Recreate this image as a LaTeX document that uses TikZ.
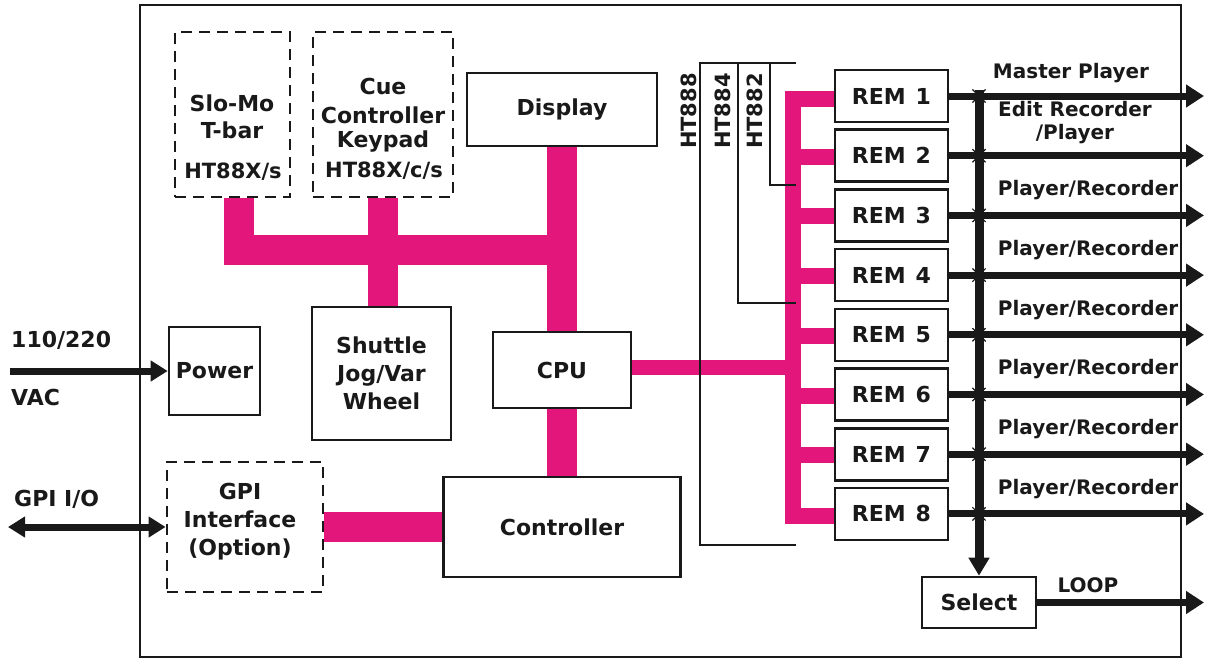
\documentclass[tikz,border=0pt]{standalone}
\usepackage{fontspec}
\setmainfont{DejaVu Sans}
\usetikzlibrary{arrows.meta,shapes.misc,backgrounds}
\definecolor{mag}{RGB}{226,22,123}
\definecolor{ink}{RGB}{25,25,25}
\begin{document}
\begin{tikzpicture}[x=1pt,y=-1pt,
  every node/.style={font=\fontsize{22}{28}\selectfont\bfseries, inner sep=0pt, text=ink},
  box/.style={draw=ink, line width=2.6pt, align=center},
  dbox/.style={box, line width=2.8pt, dash pattern=on 11pt off 7pt},
  rem/.style={box, minimum width=113pt, minimum height=52pt},
  magthick/.style={draw=mag, line width=30pt},
  magthin/.style={draw=mag, line width=16pt},
  htline/.style={draw=ink, line width=1.8pt},
  harrow/.style={draw=ink, line width=7pt, -{Triangle[length=18pt,width=22pt]}},
  vbus/.style={draw=ink, line width=9pt, -{Triangle[length=18pt,width=20pt]}},
  rlbl/.style={font=\fontsize{20}{23}\selectfont\bfseries},
  xmark/.style={cross out, draw=ink, line width=1.2pt, minimum size=12pt},
  htlbl/.style={rotate=90, anchor=east, font=\fontsize{21}{25}\selectfont\bfseries}
]
\useasboundingbox (0,0) rectangle (1205,659);
\draw[line width=2pt, ink] (140,5) rectangle (1181,657);

% boxes
\node[dbox, minimum width=115pt, minimum height=165pt] (slomo) at (232.5,114.5) {};
\node (slomo1) at (232,103) {Slo-Mo};
\node (slomo2) at (232,130) {T-bar};
\node[font=\fontsize{21}{25}\selectfont\bfseries] (slomo3) at (233,172) {HT88X/s};
\node[dbox, minimum width=140pt, minimum height=165pt] (cue) at (383,114.5) {};
\node (cue1) at (383,86) {Cue};
\node (cue2) at (383,115) {Controller};
\node (cue3) at (383,142) {Keypad};
\node[font=\fontsize{21}{25}\selectfont\bfseries] (cue4) at (384,171) {HT88X/c/s};
\node[box, minimum width=190pt, minimum height=73pt] (display) at (562,109.5) {Display};
\node[box, minimum width=139pt, minimum height=133pt] (shuttle) at (381.5,373.5) {Shuttle\\Jog/Var\\Wheel};
\node[box, minimum width=91pt, minimum height=88pt] (power) at (214.5,371) {Power};
\node[dbox, minimum width=156pt, minimum height=130pt] (gpi) at (245,527) {};
\node[align=center] (gpit) at (240,522) {GPI\\Interface\\(Option)};
\node[box, minimum width=138pt, minimum height=76pt] (cpu) at (562,370) {CPU};
\node[box, minimum width=237pt, minimum height=100pt] (ctrl) at (562,527) {Controller};
\foreach \i in {1,...,8}{
  \node[rem] (rem\i) at (891.5,{96+59.7*(\i-1)}) {REM\hspace{0.45em}\i};
}
\node[box, minimum width=114pt, minimum height=51pt] (select) at (979,602.5) {Select};

% coordinates
\coordinate (j1) at (562,250);
\coordinate (bus) at (793,300);
\coordinate (edge) at (1204,300);
\coordinate (bustop) at (979,90);
\coordinate (vacin) at (10,371);
\coordinate (gpiin) at (8,527);

% magenta buses
\begin{pgfonlayer}{background}
\draw[magthick] ([xshift=6.5pt]slomo.south) |- (j1);
\draw[magthick] (cue.south) -- (cue.south |- shuttle.north);
\draw[magthick] (display.south) -- (cpu.north);
\draw[magthick] (cpu.south) -- (ctrl.north);
\draw[magthick] (gpi.east) -- (ctrl.west);
\draw[magthin, line width=15pt] ([yshift=3pt]cpu.east) -- ([yshift=3pt]cpu.east -| bus);
\draw[magthin] ([yshift=-3pt]rem1.west) -| ([yshift=-2pt]bus |- rem8.west) -- ([yshift=-2pt]rem8.west);
\foreach \i in {2,...,7}{
  \draw[magthin] ([yshift=-1pt]rem\i.west) -- ([yshift=-1pt]rem\i.west -| bus);
}
\end{pgfonlayer}

% HT brackets
\coordinate (h8a) at (796,63);
\coordinate (h8b) at (700,63);
\coordinate (h8c) at (700,545);
\coordinate (h8d) at (796,545);
\coordinate (h4a) at (738,63);
\coordinate (h4b) at (738,303);
\coordinate (h4c) at (796,303);
\coordinate (h2a) at (770,63);
\coordinate (h2b) at (770,185);
\coordinate (h2c) at (796,185);
\draw[htline] (h8a) -- (h8b) -- (h8c) -- (h8d);
\draw[htline] (h4a) -- (h4b) -- (h4c);
\draw[htline] (h2a) -- (h2b) -- (h2c);
\node[htlbl] (ht888) at (689,73) {HT888};
\node[htlbl] (ht884) at (723,73) {HT884};
\node[htlbl] (ht882) at (755,73) {HT882};

% outputs
\draw[vbus] (bustop) -- (select.north);
\foreach \i in {1,...,8}{
  \draw[harrow] (rem\i.east) -- (rem\i.east -| edge);
  \node[xmark] (x\i) at (rem\i.east -| select.north) {};
}
\draw[harrow] (select.east) -- (select.east -| edge);

\node[rlbl] (lmaster) at (1071,73) {Master Player};
\node[rlbl, align=center] (ledit) at (1075,123) {Edit Recorder\\/Player};
\foreach \i in {3,...,8}{
  \node[rlbl] (lpr\i) at (1088,{96+59.7*(\i-1)-25}) {Player/Recorder};
}
\node[rlbl] (lloop) at (1088,585) {LOOP};

% inputs
\node[anchor=west] (l110) at (11,340) {110/220};
\node[anchor=west] (lvac) at (11,397) {VAC};
\node[anchor=west] (lgpi) at (14,499) {GPI I/O};
\draw[harrow, -{Triangle[length=17pt,width=20pt]}] (vacin) -- (power.west);
\draw[harrow, {Triangle[length=17pt,width=20pt]}-{Triangle[length=17pt,width=20pt]}] (gpiin) -- (gpi.west);
\end{tikzpicture}
\end{document}
